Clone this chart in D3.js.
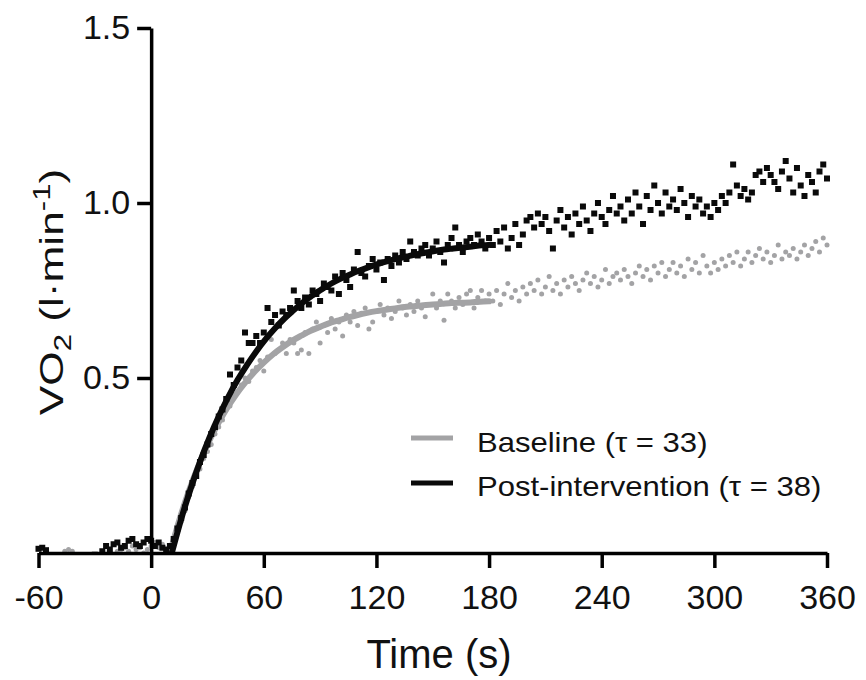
<!DOCTYPE html>
<html><head><meta charset="utf-8">
<script src="https://cdn.jsdelivr.net/npm/d3@7"></script>
<style>
html,body{margin:0;padding:0;background:#fff;}
svg text{font-family:"Liberation Sans",Arial,Helvetica,sans-serif;fill:#111;}
</style></head>
<body>
<svg id="chart" width="866" height="680"></svg>
<script>
// ---- data ----
const xTicks = [-60, 0, 60, 120, 180, 240, 300, 360];
const yTicks = [0.5, 1.0, 1.5];
const sampleStart = -60, sampleStep = 2;   // seconds, one sample every 2 s

// Baseline VO2 (l/min), t = -60 .. 360 s
const baselineVO2 = [
 -0.01,-0.015,-0.01,-0.02,-0.01,-0.015,-0.005,0.005,0.01,0.005,
 -0.01,-0.02,-0.015,-0.01,-0.02,-0.01,-0.015,-0.005,-0.01,0.0,
 -0.01,0.005,0.01,0.015,0.005,0.02,0.01,0.015,0.0,0.01,
 0.02,0.03,0.015,0.025,0.01,0.02,
 0.03,0.06,0.09,0.12,0.16,0.19,0.22,0.24,0.27,0.29,
 0.31,0.34,0.36,0.38,0.41,0.42,0.45,0.46,0.48,0.50,
 0.49,0.52,0.53,0.55,0.52,0.56,0.61,0.57,0.58,0.60,
 0.57,0.61,0.60,0.57,0.58,0.63,0.57,0.64,0.66,0.60,
 0.65,0.63,0.67,0.64,0.66,0.62,0.68,0.66,0.69,0.65,
 0.685,0.70,0.64,0.66,0.69,0.71,0.68,0.70,0.67,0.69,
 0.72,0.70,0.68,0.71,0.69,0.72,0.70,0.675,0.71,0.74,
 0.70,0.72,0.665,0.74,0.72,0.70,0.73,0.71,0.74,0.75,
 0.70,0.73,0.75,0.72,0.74,
 0.72,0.75,0.71,0.74,0.77,0.73,0.75,0.72,0.76,0.74,
 0.77,0.75,0.78,0.74,0.76,0.79,0.75,0.77,0.74,0.78,
 0.76,0.79,0.77,0.75,0.78,0.80,0.77,0.79,0.76,0.78,
 0.81,0.77,0.79,0.80,0.78,0.81,0.79,0.77,0.80,0.82,
 0.79,0.81,0.78,0.82,0.80,0.83,0.79,0.81,0.83,0.80,
 0.82,0.79,0.84,0.81,0.83,0.80,0.85,0.82,0.80,0.83,
 0.81,0.84,0.82,0.85,0.83,0.86,0.82,0.84,0.86,0.83,
 0.85,0.87,0.84,0.86,0.83,0.85,0.88,0.84,0.86,0.85,
 0.87,0.84,0.86,0.88,0.85,0.87,0.89,0.86,0.90,0.88
];

// Post-intervention VO2 (l/min), t = -60 .. 360 s
const postVO2 = [
 0.012,0.015,0.008,-0.01,-0.02,-0.015,-0.01,-0.02,-0.015,-0.01,
 -0.02,-0.01,-0.015,-0.02,-0.01,-0.005,-0.01,0.005,0.02,0.01,
 0.025,0.03,0.015,0.02,0.035,0.04,0.025,0.02,0.03,0.04,
 0.035,0.02,0.03,0.015,0.01,0.02,
 0.04,0.07,0.10,0.13,0.17,0.20,0.22,0.26,0.28,0.31,
 0.34,0.36,0.39,0.41,0.44,0.51,0.48,0.53,0.55,0.63,
 0.60,0.60,0.62,0.60,0.63,0.70,0.66,0.68,0.65,0.69,
 0.68,0.70,0.75,0.72,0.70,0.73,0.71,0.75,0.74,0.72,
 0.77,0.76,0.75,0.79,0.74,0.80,0.78,0.76,0.81,0.86,
 0.80,0.79,0.82,0.84,0.81,0.83,0.78,0.84,0.82,0.85,
 0.83,0.86,0.84,0.89,0.86,0.85,0.87,0.88,0.85,0.87,
 0.89,0.86,0.83,0.88,0.90,0.93,0.88,0.86,0.89,0.90,
 0.88,0.91,0.89,0.87,0.90,
 0.88,0.92,0.89,0.93,0.87,0.90,0.94,0.88,0.91,0.95,
 0.96,0.93,0.97,0.94,0.96,0.92,0.87,0.95,0.98,0.93,
 0.96,0.91,0.97,0.94,0.99,0.95,0.92,0.97,1.00,0.96,
 0.94,0.98,1.02,0.97,0.99,0.95,1.01,0.97,1.03,0.99,
 0.94,1.02,0.98,1.05,1.00,0.97,1.03,0.99,1.01,0.98,
 1.04,1.00,0.96,1.02,0.99,1.01,0.97,0.99,0.96,1.00,
 0.98,1.02,1.00,1.03,1.11,1.05,1.02,1.04,1.01,1.03,
 1.08,1.09,1.06,1.10,1.08,1.06,1.04,1.09,1.12,1.07,
 1.03,1.10,1.05,1.02,1.08,1.06,1.03,1.09,1.11,1.07
];

// Fitted mono-exponential curves (sampled from the drawn lines)
const baselineFitT = [10,15,20,25,30,35,40,45,50,55,60,65,70,75,80,85,90,95,100,105,110,115,120,125,130,135,140,145,150,155,160,165,170,175,180];
const baselineFitV = [0,0.094,0.176,0.247,0.309,0.363,0.410,0.451,0.486,0.517,0.544,0.568,0.588,0.606,0.621,0.635,0.646,0.657,0.665,0.673,0.680,0.686,0.691,0.695,0.699,0.703,0.705,0.708,0.710,0.712,0.714,0.715,0.716,0.718,0.719];
const postFitT = [11,16,21,26,31,36,41,46,51,56,61,66,71,76,81,86,91,96,101,106,111,116,121,126,131,136,141,146,151,156,161,166,171,176,181];
const postFitV = [0,0.097,0.183,0.260,0.329,0.390,0.445,0.494,0.537,0.576,0.611,0.642,0.670,0.694,0.717,0.736,0.754,0.770,0.784,0.796,0.807,0.817,0.826,0.834,0.841,0.847,0.853,0.858,0.863,0.867,0.870,0.873,0.876,0.879,0.881];

const seriesNames = ["Baseline (\u03C4 = 33)", "Post-intervention (\u03C4 = 38)"];
const seriesColors = ["#a3a3a5", "#0a0a0a"];

// ---- drawing ----
const svg = d3.select("#chart");
svg.append("rect").attr("width",866).attr("height",680).attr("fill","#fff");

const x = d3.scaleLinear().domain([-60, 360]).range([38.5, 827]);
const y = d3.scaleLinear().domain([0, 1.5]).range([553, 28]);

svg.append("defs").append("clipPath").attr("id","plotclip")
  .append("rect").attr("x",0).attr("y",0).attr("width",866).attr("height",y(0));

const toPts = arr => arr.map((v,i)=>({t: sampleStart + i*sampleStep, v}));
const basePts = toPts(baselineVO2);
const postPts = toPts(postVO2);

const plot = svg.append("g").attr("clip-path","url(#plotclip)");

// baseline points (round grey)
plot.append("g").selectAll("circle").data(basePts).join("circle")
  .attr("cx", d=>x(d.t)).attr("cy", d=>y(d.v)).attr("r", 2.5)
  .attr("fill", seriesColors[0]);

const line = d3.line().x(d=>x(d[0])).y(d=>y(d[1])).curve(d3.curveMonotoneX);

plot.append("path").datum(baselineFitT.map((t,i)=>[t, baselineFitV[i]]))
  .attr("d", line).attr("fill","none").attr("stroke", seriesColors[0])
  .attr("stroke-width", 6).attr("stroke-linecap","round");

// post-intervention points (black squares)
const sq = 6;
plot.append("g").selectAll("rect").data(postPts).join("rect")
  .attr("x", d=>x(d.t)-sq/2).attr("y", d=>y(d.v)-sq/2)
  .attr("width", sq).attr("height", sq).attr("fill", seriesColors[1]);

plot.append("path").datum(postFitT.map((t,i)=>[t, postFitV[i]]))
  .attr("d", line).attr("fill","none").attr("stroke", seriesColors[1])
  .attr("stroke-width", 6).attr("stroke-linecap","round");

// axes
const xAxis = d3.axisBottom(x).tickValues(xTicks).tickSize(15).tickSizeOuter(0).tickPadding(17)
  .tickFormat(d => String(d));   // plain hyphen as in the reference
const gx = svg.append("g").attr("transform",`translate(0,${y(0)})`).call(xAxis);
gx.select(".domain").attr("stroke","#000").attr("stroke-width",3.5);
gx.selectAll(".tick line").attr("stroke","#000").attr("stroke-width",3.5);
gx.selectAll(".tick text").attr("font-size",34).attr("fill","#111")
  .style("font-family","'Liberation Sans',Arial,sans-serif");

const yAxis = d3.axisLeft(y).tickValues(yTicks).tickSize(14).tickSizeOuter(0).tickPadding(7)
  .tickFormat(d3.format(".1f"));
const gy = svg.append("g").attr("transform",`translate(${x(0)},0)`).call(yAxis);
gy.select(".domain").attr("stroke","#000").attr("stroke-width",3.5);
gy.selectAll(".tick line").attr("stroke","#000").attr("stroke-width",3.5);
gy.selectAll(".tick text").attr("font-size",34).attr("fill","#111")
  .style("font-family","'Liberation Sans',Arial,sans-serif");

// axis titles
svg.append("text").attr("x", 439).attr("y", 668).attr("text-anchor","middle")
  .attr("font-size", 40).text("Time (s)");

const yl = svg.append("text")
  .attr("transform","translate(63,292) rotate(-90) scale(1.3,1)")
  .attr("text-anchor","middle").attr("font-size", 34);
yl.append("tspan").text("VO");
yl.append("tspan").attr("font-size",24).attr("dy",8).text("2");
yl.append("tspan").attr("dy",-8).text(" (l\u00B7min");
yl.append("tspan").attr("font-size",24).attr("dy",-13).text("-1");
yl.append("tspan").attr("dy",13).text(")");

// legend
const legLineY = [438, 483];
const legTextY = [452, 496];
seriesNames.forEach((name,i)=>{
  svg.append("line").attr("x1",411).attr("x2",453).attr("y1",legLineY[i]).attr("y2",legLineY[i])
    .attr("stroke", seriesColors[i]).attr("stroke-width",5);
  svg.append("text").attr("transform",`translate(477,${legTextY[i]}) scale(1.15,1)`)
    .attr("font-size",27).text(name);
});
</script>
</body></html>
